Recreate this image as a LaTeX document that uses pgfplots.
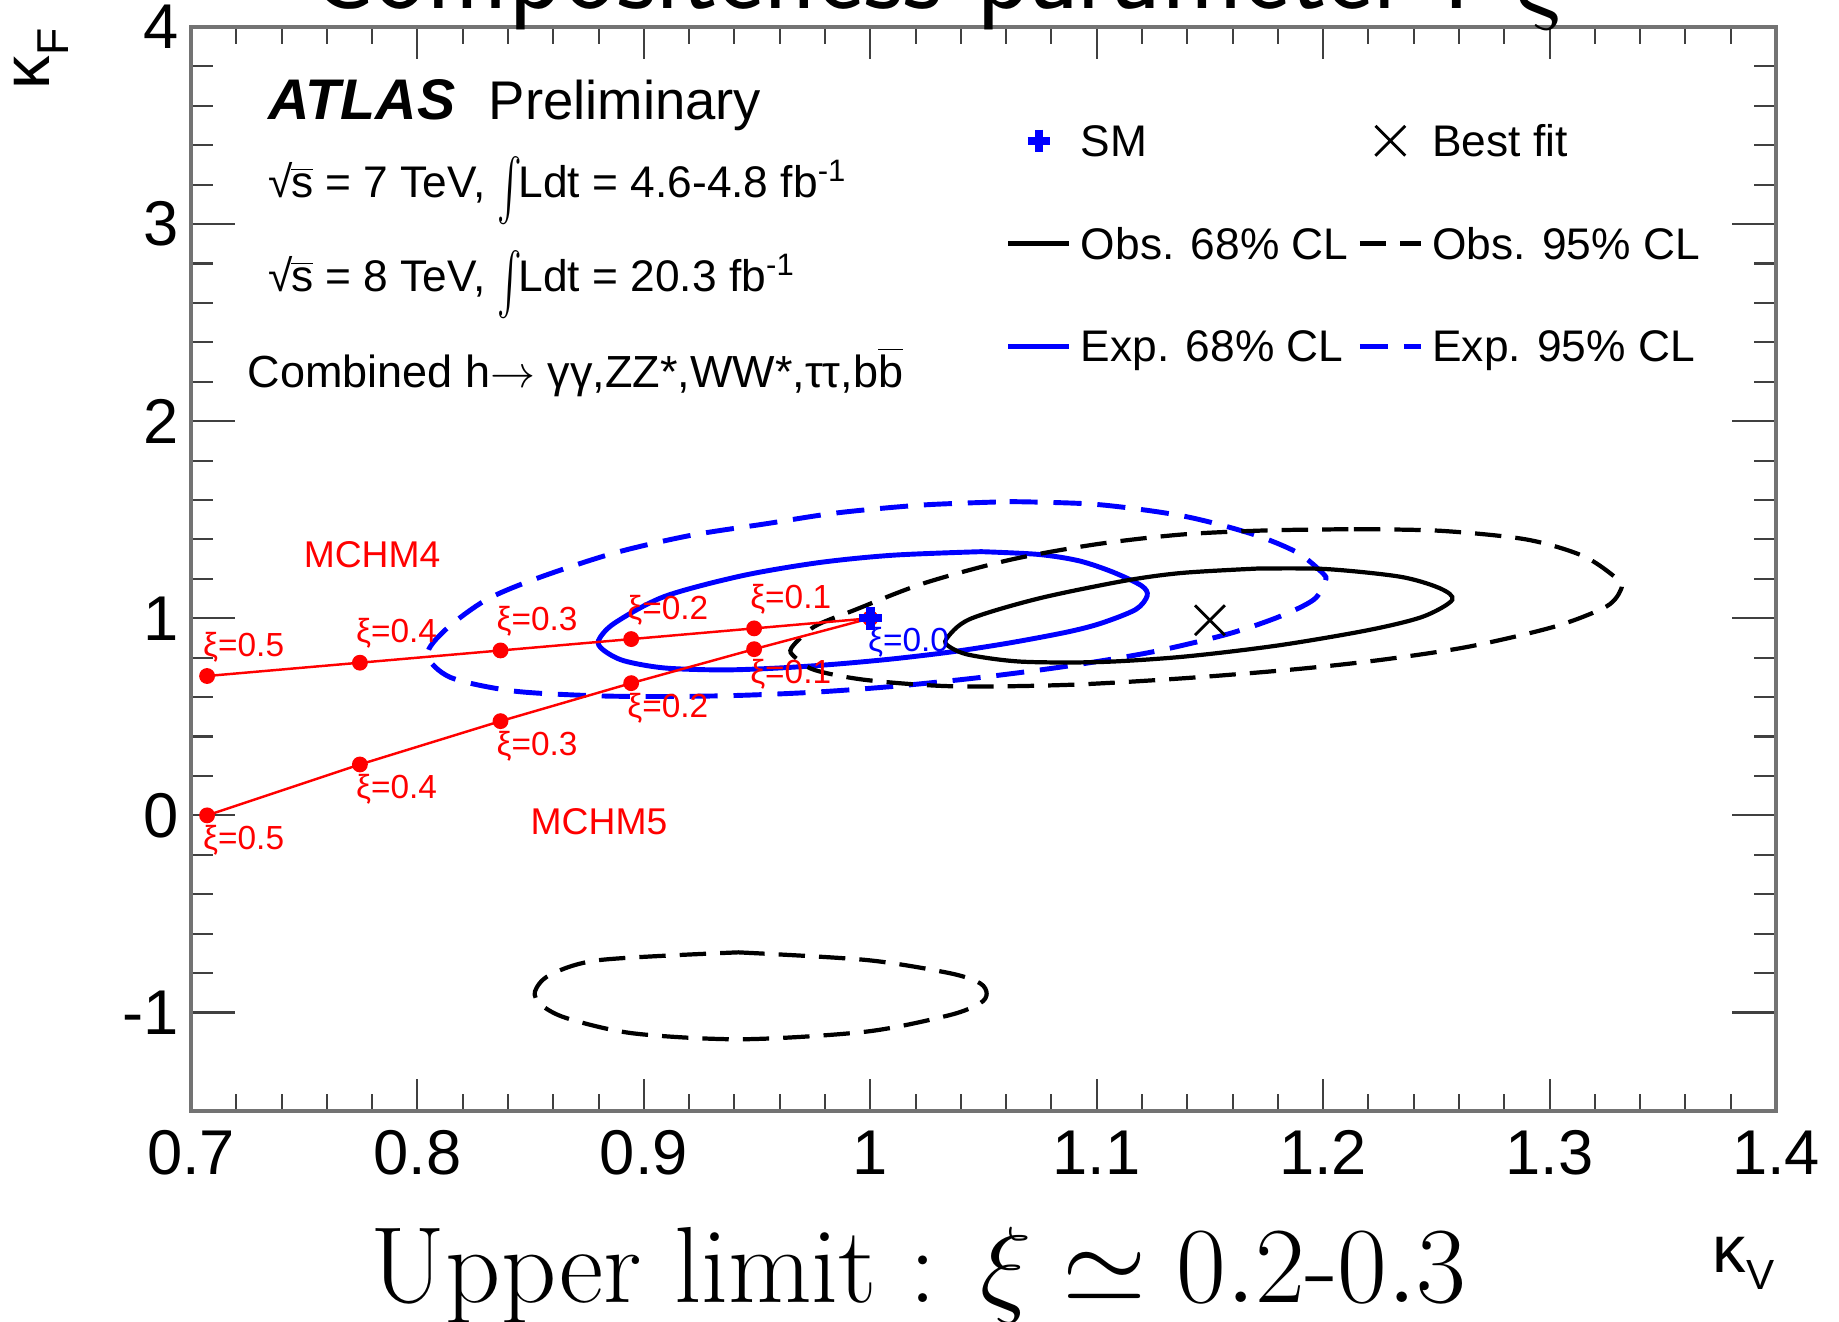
\RequirePackage{fix-cm}
\documentclass[border=0pt]{standalone}
\usepackage{pgfplots}
\pgfplotsset{compat=1.18}
\usepackage{fontspec}
\newfontfamily\arial{Liberation Sans}
\pgfplotsset{
  leglinestyle/.style={legend image code/.code={\draw[##1] (0cm,0cm) -- (0.61cm,0cm);}},
  legmarkstyle/.style={legend image code/.code={\draw[##1] plot coordinates {(0.305cm,0cm)};}},
}
\newcommand{\bigint}{\smash{\raisebox{-3.5pt}{\scalebox{1.05}[1.75]{$\int$}}}}
\begin{document}
\begin{tikzpicture}
\useasboundingbox (0,0) rectangle (18.39cm,13.21cm);
\begin{axis}[
  at={(1.91cm,2.10cm)}, anchor=south west,
  width=15.85cm, height=10.84cm, scale only axis,
  xmin=0.7, xmax=1.4, ymin=-1.5, ymax=4,
  xtick={0.7,0.8,0.9,1,1.1,1.2,1.3,1.4},
  ytick={-1,0,1,2,3,4},
  minor x tick num=4, minor y tick num=4,
  axis line style={black!55, line width=0.9pt},
  every tick/.style={black!75, line width=0.6pt},
  xtick style={/pgfplots/major tick length=9.1pt,/pgfplots/minor tick length=4.8pt},
  ytick style={/pgfplots/major tick length=12.6pt,/pgfplots/minor tick length=6.3pt},
  /pgf/number format/assume math mode=true,
  ticklabel style={font=\arial\fontsize{18}{20}\selectfont, inner sep=0pt},
  xticklabel style={yshift=-5.4pt},
  yticklabel style={xshift=-3.4pt},
  clip mode=individual,
  legend columns=2,
  legend cell align=left,
  legend style={at={(0.5142,0.9096)}, anchor=north west, draw=none, fill=none,
    inner sep=0pt, outer sep=0pt, row sep=20.2pt, column sep=0.09cm,
    font=\arial\fontsize{12.6}{14}\selectfont,
    nodes={inner sep=0pt, text height=9pt, text depth=0pt}},
]
\addlegendimage{legmarkstyle, blue, mark=+, mark size=3.2pt, line width=2.4pt}
\addlegendentry{SM}
\addlegendimage{legmarkstyle, black, mark=x, mark size=6pt, line width=0.8pt}
\addlegendentry{Best fit}
\addlegendimage{leglinestyle, black, line width=1.2pt}
\addlegendentry{Obs. 68\% CL}
\addlegendimage{leglinestyle, black, line width=1.2pt, dash pattern=on 7.5pt off 4pt}
\addlegendentry{Obs. 95\% CL}
\addlegendimage{leglinestyle, blue, line width=1.4pt}
\addlegendentry{Exp. 68\% CL}
\addlegendimage{leglinestyle, blue, line width=1.4pt, dash pattern=on 8pt off 4.5pt}
\addlegendentry{Exp. 95\% CL}

% Expected 95% CL
\addplot[forget plot, blue, line width=1.4pt, dash pattern=on 8pt off 4.5pt, smooth] coordinates {
(1.0615,1.592) (1.0995,1.578) (1.1376,1.520) (1.1680,1.430) (1.1883,1.335)
(1.1997,1.230) (1.2010,1.190) (1.1959,1.095) (1.1806,1.008) (1.1579,0.920)
(1.1249,0.830) (1.0869,0.757) (1.0488,0.700) (1.0108,0.655) (0.9753,0.625)
(0.9400,0.608) (0.9050,0.603) (0.8754,0.608) (0.8416,0.632) (0.8146,0.700)
(0.8044,0.814) (0.8123,0.941) (0.8303,1.093) (0.8529,1.203) (0.8866,1.330)
(0.9204,1.420) (0.9542,1.480) (0.9855,1.535) (1.0235,1.575) (1.0615,1.592)};
% Expected 68% CL
\addplot[forget plot, blue, line width=1.4pt, smooth] coordinates {
(1.049,1.338) (1.0742,1.324) (1.092,1.292) (1.107,1.235) (1.1198,1.165)
(1.1223,1.115) (1.1173,1.045) (1.102,0.975) (1.0869,0.930) (1.0615,0.875)
(1.0362,0.830) (1.0108,0.795) (0.9855,0.768) (0.9601,0.748) (0.935,0.738)
(0.909,0.748) (0.891,0.785) (0.882,0.840) (0.880,0.888) (0.887,0.975)
(0.909,1.110) (0.943,1.215) (0.977,1.282) (1.010,1.320) (1.049,1.338)};
% Observed 95% CL (upper)
\addplot[forget plot, black, line width=1.2pt, dash pattern=on 7.5pt off 4pt, smooth] coordinates {
(1.2136,1.452) (1.2516,1.444) (1.2897,1.400) (1.3150,1.315) (1.3302,1.196)
(1.3315,1.146) (1.3251,1.060) (1.3023,0.958) (1.2643,0.856) (1.2263,0.790)
(1.1883,0.742) (1.1376,0.695) (1.0869,0.662) (1.0362,0.655) (0.9981,0.687)
(0.9753,0.738) (0.9665,0.805) (0.9652,0.850) (0.9753,0.958) (0.9931,1.042)
(1.0235,1.177) (1.0615,1.296) (1.0995,1.375) (1.1376,1.425) (1.1756,1.446)
(1.2136,1.452)};
% Observed 95% CL (lower island)
\addplot[forget plot, black, line width=1.2pt, dash pattern=on 7.5pt off 4pt, smooth] coordinates {
(0.9417,-0.695) (0.9984,-0.734) (1.0352,-0.801) (1.0485,-0.852) (1.0514,-0.905)
(1.0485,-0.953) (1.0352,-1.013) (0.9984,-1.097) (0.9432,-1.136) (0.8953,-1.106)
(0.8659,-1.029) (0.8545,-0.960) (0.8519,-0.894) (0.8585,-0.810) (0.8806,-0.734)
(0.9417,-0.695)};
% Observed 68% CL
\addplot[forget plot, black, line width=1.2pt, smooth] coordinates {
(1.1705,1.252) (1.2009,1.250) (1.2339,1.211) (1.2516,1.152) (1.2570,1.093)
(1.2440,1.008) (1.2200,0.940) (1.1800,0.862) (1.1382,0.805) (1.1014,0.778)
(1.0666,0.780) (1.0438,0.814) (1.0349,0.856) (1.0336,0.895) (1.0438,0.995)
(1.0742,1.100) (1.1122,1.190) (1.1376,1.230) (1.1705,1.252)};

% MCHM4
\addplot[forget plot, red, line width=0.7pt, mark=*, mark size=1.9pt, mark options={fill=red}] coordinates {
(0.7071,0.7071) (0.7746,0.7746) (0.8367,0.8367) (0.8944,0.8944) (0.9487,0.9487) (1,1)};
% MCHM5
\addplot[forget plot, red, line width=0.7pt, mark=*, mark size=1.9pt, mark options={fill=red}] coordinates {
(0.7071,0) (0.7746,0.2582) (0.8367,0.4781) (0.8944,0.6708) (0.9487,0.8433) (1,1)};

% SM and best fit
\addplot[forget plot, only marks, blue, mark=+, mark size=3.2pt, line width=2.4pt] coordinates {(1,1)};
\addplot[forget plot, only marks, black, mark=x, mark size=6pt, line width=0.8pt] coordinates {(1.15,0.99)};

% labels
\begin{scope}[font=\arial\fontsize{9.5}{10}\selectfont, red, inner sep=0pt]
\node[anchor=west] at (axis cs:0.7071,0.7071) [xshift=-1.3pt, yshift=8.3pt] {ξ=0.5};
\node[anchor=west] at (axis cs:0.7746,0.7746) [xshift=-1.3pt, yshift=8.3pt] {ξ=0.4};
\node[anchor=west] at (axis cs:0.8367,0.8367) [xshift=-1.3pt, yshift=8.3pt] {ξ=0.3};
\node[anchor=west] at (axis cs:0.8944,0.8944) [xshift=-1.3pt, yshift=8.3pt] {ξ=0.2};
\node[anchor=west] at (axis cs:0.9487,0.9487) [xshift=-1.3pt, yshift=8.3pt] {ξ=0.1};
\node[anchor=west] at (axis cs:0.7071,0) [xshift=-1.3pt, yshift=-7.1pt] {ξ=0.5};
\node[anchor=west] at (axis cs:0.7746,0.2582) [xshift=-1.3pt, yshift=-7.1pt] {ξ=0.4};
\node[anchor=west] at (axis cs:0.8367,0.4781) [xshift=-1.3pt, yshift=-7.1pt] {ξ=0.3};
\node[anchor=west] at (axis cs:0.8944,0.6708) [xshift=-1.3pt, yshift=-7.1pt] {ξ=0.2};
\node[anchor=west] at (axis cs:0.9487,0.8433) [xshift=-1.3pt, yshift=-7.1pt] {ξ=0.1};
\node[anchor=west, blue] at (axis cs:1,1) [xshift=-0.8pt, yshift=-6.7pt] {ξ=0.0};
\end{scope}
\node[anchor=west, red, inner sep=0pt, font=\arial\fontsize{10.6}{12}\selectfont] at (axis cs:0.7495,1.321) {MCHM4};
\node[anchor=west, red, inner sep=0pt, font=\arial\fontsize{10.6}{12}\selectfont] at (axis cs:0.8497,-0.033) {MCHM5};
\end{axis}

% ATLAS text block
\node[anchor=base west, inner sep=0pt] at (2.68cm,12.01cm) {\arial\fontsize{16.3}{18}\selectfont\bfseries\itshape ATLAS};
\node[anchor=base west, inner sep=0pt] at (4.88cm,12.01cm) {\arial\fontsize{15.5}{17}\selectfont Preliminary};
\node[anchor=base west, inner sep=0pt] at (2.68cm,11.23cm) {\arial\fontsize{12.6}{14}\selectfont √\kern-0.5pt$\overline{\mbox{s}}$ = 7 TeV, \bigint\kern-1pt Ldt = 4.6-4.8 fb\textsuperscript{-1}};
\node[anchor=base west, inner sep=0pt] at (2.68cm,10.29cm) {\arial\fontsize{12.6}{14}\selectfont √\kern-0.5pt$\overline{\mbox{s}}$ = 8 TeV, \bigint\kern-1pt Ldt = 20.3 fb\textsuperscript{-1}};
\node[anchor=base west, inner sep=0pt] at (2.47cm,9.34cm) {\arial\fontsize{12.8}{14}\selectfont Combined h$\rightarrow$ γγ,ZZ*,WW*,ττ,b$\overline{\mbox{b}}$};

% axis titles
\node[anchor=base east, inner sep=0pt] at (17.75cm,0.49cm) {\arial\fontsize{19}{20}\selectfont κ\raisebox{-5.1pt}{\fontsize{12}{12}\selectfont V}};
\node[anchor=base east, inner sep=0pt, rotate=90] at (0.49cm,12.93cm) {\arial\fontsize{19}{20}\selectfont κ\raisebox{-5.6pt}{\fontsize{12.7}{13}\selectfont F}};

% slide texts
\node[anchor=base west, inner sep=0pt] at (3.08cm,13.12cm) {\fontsize{31.3}{33}\selectfont\sffamily Compositeness parameter : $\xi$};
\node[anchor=base west, inner sep=0pt] at (3.70cm,0.19cm) {\fontsize{30.8}{33}\selectfont Upper limit : $\xi \simeq 0.2$-$0.3$};
\end{tikzpicture}
\end{document}
